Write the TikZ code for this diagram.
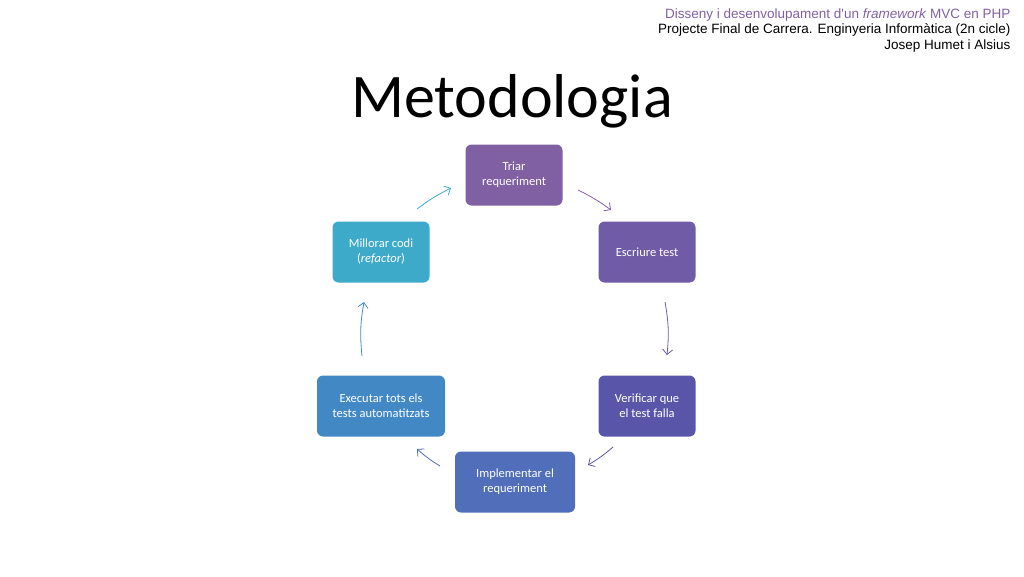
\documentclass[tikz,border=0pt]{standalone}
\usepackage{fontspec}
\usetikzlibrary{arrows.meta}
\setmainfont{Carlito}
\newfontfamily\headfont{Liberation Sans}
\definecolor{cTriar}{RGB}{128,96,162}
\definecolor{cEscr}{RGB}{111,91,166}
\definecolor{cVerif}{RGB}{89,86,170}
\definecolor{cImpl}{RGB}{80,110,186}
\definecolor{cExec}{RGB}{66,136,196}
\definecolor{cMill}{RGB}{60,170,200}
\begin{document}
\begin{tikzpicture}[x=1pt,y=-1pt,
  stepbox/.style={rounded corners=6pt,minimum height=61pt,text=white,align=center,
    font=\fontsize{12.5}{15}\selectfont,inner sep=2pt},
  flow/.style={thick,-{Straight Barb[length=5pt,width=10pt]}}]
\useasboundingbox (0,0) rectangle (1024,576);

\node[font=\headfont\fontsize{13.5}{15.5}\selectfont,anchor=north east,align=right] (head) at (1014,5)
  {\textcolor{cTriar}{Disseny i desenvolupament d'un \textit{framework} MVC en PHP}\\
   Projecte Final de Carrera. Enginyeria Informàtica (2n cicle)\\
   Josep Humet i Alsius};
\node[font=\fontsize{62}{70}\selectfont] (title) at (512,101) {Metodologia};

\node[stepbox,fill=cTriar,minimum width=97pt] (triar) at (514,175) {Triar\\requeriment};
\node[stepbox,fill=cEscr,minimum width=97pt] (escr) at (647,252) {Escriure test};
\node[stepbox,fill=cVerif,minimum width=97pt] (verif) at (647,406) {Verificar que\\el test falla};
\node[stepbox,fill=cImpl,minimum width=120pt] (impl) at (515,482) {Implementar el\\requeriment};
\node[stepbox,fill=cExec,minimum width=128pt] (exec) at (381,406) {Executar tots els\\tests automatitzats};
\node[stepbox,fill=cMill,minimum width=97pt] (mill) at (381,252) {Millorar codi\\(\textit{refactor})};

% arrow ends
\coordinate (a1) at (578,190); \coordinate (b1) at (611,210);
\coordinate (a2) at (665,302); \coordinate (b2) at (667,355);
\coordinate (a3) at (613,447); \coordinate (b3) at (588,465);
\coordinate (a4) at (440,466); \coordinate (b4) at (417,449);
\coordinate (a5) at (362,356); \coordinate (b5) at (364,302);
\coordinate (a6) at (417,209); \coordinate (b6) at (451,188);

\draw[flow,cTriar] (a1) to[bend left=5] (b1);
\draw[flow,cEscr] (a2) to[bend left=8] (b2);
\draw[flow,cVerif] (a3) to[bend left=5] (b3);
\draw[flow,cImpl] (a4) to[bend left=5] (b4);
\draw[flow,cExec] (a5) to[bend left=8] (b5);
\draw[flow,cMill] (a6) to[bend left=5] (b6);
\end{tikzpicture}
\end{document}
